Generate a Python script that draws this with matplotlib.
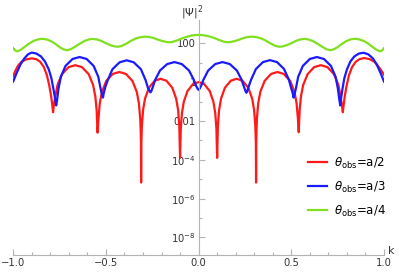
import numpy as np
import matplotlib
matplotlib.use("Agg")
import matplotlib.pyplot as plt
from matplotlib.ticker import FixedLocator, FixedFormatter, NullFormatter

# |Psi|^2, stored as log10 values
red_k = [-1.0, -0.99, -0.975, -0.955, -0.93, -0.9, -0.875, -0.855, -0.835, -0.818, -0.805, -0.795, -0.789, -0.785,
         -0.781, -0.773, -0.761, -0.737, -0.701, -0.665, -0.629, -0.593, -0.569, -0.557, -0.55, -0.545,
         -0.54, -0.533, -0.5215, -0.498, -0.463, -0.4275, -0.392, -0.357, -0.3335, -0.322, -0.315, -0.3124, -0.311, -0.31,
         -0.309, -0.306, -0.2995, -0.289, -0.268, -0.2365, -0.205, -0.1735, -0.142, -0.121, -0.1105, -0.104, -0.1018, -0.1,
         -0.096, -0.09, -0.08, -0.06, -0.03, 0.0, 0.03, 0.06, 0.08, 0.09, 0.096, 0.1,
         0.1018, 0.104, 0.1105, 0.121, 0.142, 0.1735, 0.205, 0.2365, 0.268, 0.289, 0.2995, 0.306, 0.309, 0.31,
         0.311, 0.3124, 0.3146, 0.3215, 0.333, 0.356, 0.3905, 0.425, 0.4595, 0.494, 0.517, 0.5285, 0.5354, 0.54,
         0.545, 0.552, 0.564, 0.588, 0.623, 0.659, 0.695, 0.73, 0.754, 0.766, 0.773, 0.778,
         0.782, 0.788, 0.798, 0.811, 0.828, 0.848, 0.868, 0.893, 0.923, 0.948, 0.968, 0.985, 1.0]
red_log = [0.30, 0.55, 0.83, 1.05, 1.17, 1.22, 1.18, 1.05, 0.78, 0.35, -0.2, -0.75, -1.2, -1.55,
           -1.2, -0.74, -0.15, 0.41, 0.77, 0.87, 0.77, 0.41, -0.15, -0.74, -1.45, -2.6,
           -1.88, -1.09, -0.5, 0.06, 0.42, 0.52, 0.42, 0.06, -0.5, -1.09, -1.88, -2.48, -3.1, -5.17,
           -3.2, -2.28, -1.44, -0.85, -0.29, 0.07, 0.17, 0.07, -0.29, -0.85, -1.44, -2.28, -3.2, -3.9,
           -2.39, -1.61, -1.02, -0.46, -0.1, 0.0, -0.1, -0.46, -1.02, -1.61, -2.39, -3.9,
           -3.2, -2.28, -1.44, -0.85, -0.29, 0.07, 0.17, 0.07, -0.29, -0.85, -1.44, -2.28, -3.2, -5.17,
           -3.1, -2.48, -1.88, -1.09, -0.5, 0.06, 0.42, 0.52, 0.42, 0.06, -0.5, -1.09, -1.85, -2.58,
           -1.45, -0.74, -0.15, 0.41, 0.77, 0.87, 0.77, 0.41, -0.15, -0.74, -1.2, -1.55,
           -1.2, -0.75, -0.2, 0.35, 0.78, 1.05, 1.18, 1.24, 1.18, 1.05, 0.83, 0.6, 0.38]

blue_k = [-1.0, -0.98, -0.96, -0.94, -0.92, -0.9, -0.875, -0.85, -0.828, -0.808, -0.794, -0.783, -0.774, -0.768,
          -0.763, -0.7554, -0.743, -0.718, -0.68, -0.642, -0.604, -0.566, -0.541, -0.529, -0.521, -0.516,
          -0.511, -0.503, -0.49, -0.465, -0.426, -0.388, -0.35, -0.311, -0.286, -0.273, -0.265, -0.26,
          -0.255, -0.247, -0.234, -0.208, -0.169, -0.13, -0.091, -0.052, -0.026, -0.013, -0.005, 0.0,
          0.005, 0.013, 0.026, 0.052, 0.09, 0.129, 0.168, 0.206, 0.232, 0.245, 0.253, 0.258,
          0.263, 0.271, 0.283, 0.309, 0.347, 0.385, 0.423, 0.461, 0.487, 0.499, 0.507, 0.512,
          0.517, 0.525, 0.537, 0.562, 0.6, 0.638, 0.676, 0.714, 0.739, 0.751, 0.759, 0.764,
          0.768, 0.776, 0.786, 0.8, 0.818, 0.84, 0.865, 0.89, 0.915, 0.94, 0.96, 0.98, 1.0]
blue_log = [0.03, 0.5, 0.92, 1.22, 1.43, 1.52, 1.47, 1.32, 1.05, 0.65, 0.2, -0.35, -0.85, -1.2,
            -0.9, -0.32, 0.27, 0.83, 1.19, 1.29, 1.19, 0.83, 0.27, -0.32, -0.65, -0.8,
            -0.55, -0.25, 0.1, 0.66, 1.02, 1.12, 1.02, 0.66, 0.1, -0.3, -0.45, -0.53,
            -0.47, -0.25, 0.12, 0.6, 0.93, 1.03, 0.93, 0.6, 0.12, -0.2, -0.35, -0.4,
            -0.35, -0.2, 0.12, 0.6, 0.93, 1.03, 0.93, 0.6, 0.12, -0.25, -0.47, -0.55,
            -0.45, -0.2, 0.12, 0.67, 1.03, 1.13, 1.03, 0.67, 0.12, -0.3, -0.55, -0.8,
            -0.65, -0.32, 0.27, 0.83, 1.19, 1.29, 1.19, 0.83, 0.27, -0.32, -0.9, -1.2,
            -0.85, -0.35, 0.2, 0.65, 1.05, 1.32, 1.47, 1.51, 1.43, 1.22, 0.92, 0.5, 0.03]

green_k = [-1.0, -0.99, -0.978, -0.96, -0.94, -0.915, -0.89, -0.865, -0.845, -0.82,
           -0.795, -0.77, -0.75, -0.73, -0.71, -0.69, -0.665, -0.64, -0.615, -0.59,
           -0.575, -0.55, -0.525, -0.5, -0.475, -0.455, -0.435, -0.415, -0.39, -0.365,
           -0.34, -0.315, -0.29, -0.265, -0.24, -0.215, -0.19, -0.17, -0.155, -0.14,
           -0.115, -0.09, -0.065, -0.04, -0.02, 0.0, 0.02, 0.04, 0.065, 0.09,
           0.115, 0.14, 0.155, 0.17, 0.19, 0.215, 0.24, 0.265, 0.29, 0.315,
           0.34, 0.365, 0.39, 0.415, 0.435, 0.455, 0.475, 0.5, 0.525, 0.55,
           0.575, 0.59, 0.615, 0.64, 0.665, 0.69, 0.71, 0.73, 0.75, 0.77,
           0.795, 0.82, 0.845, 0.865, 0.89, 0.915, 0.94, 0.96, 0.978, 0.99, 1.0]
green_log = [1.75, 1.63, 1.58, 1.66, 1.8, 1.98, 2.12, 2.2, 2.23, 2.2,
             2.1, 1.95, 1.8, 1.69, 1.64, 1.69, 1.83, 1.98, 2.12, 2.2,
             2.22, 2.2, 2.12, 2.0, 1.9, 1.84, 1.82, 1.86, 1.98, 2.12,
             2.24, 2.31, 2.34, 2.32, 2.26, 2.17, 2.1, 2.06, 2.05, 2.07,
             2.15, 2.25, 2.33, 2.39, 2.42, 2.43, 2.42, 2.39, 2.33, 2.25,
             2.15, 2.07, 2.05, 2.06, 2.1, 2.17, 2.26, 2.32, 2.34, 2.31,
             2.24, 2.12, 1.98, 1.86, 1.82, 1.84, 1.9, 2.0, 2.12, 2.2,
             2.22, 2.2, 2.12, 1.98, 1.83, 1.69, 1.64, 1.69, 1.8, 1.95,
             2.1, 2.2, 2.23, 2.2, 2.12, 1.98, 1.8, 1.66, 1.58, 1.63, 1.75]

labels = [r"$\theta_{\rm obs}$=a/2", r"$\theta_{\rm obs}$=a/3", r"$\theta_{\rm obs}$=a/4"]
colors = ["#ff1a1a", "#1a1aff", "#80e020"]

yticks = [1e2, 1, 1e-2, 1e-4, 1e-6, 1e-8]
ytick_labels = ["100", "1", "0.01", r"$10^{-4}$", r"$10^{-6}$", r"$10^{-8}$"]
yminor = [1e1, 1e-1, 1e-3, 1e-5, 1e-7]
xticks = [-1.0, -0.5, 0.0, 0.5, 1.0]

axis_col = "#b3b3b3"
text_col = "#333333"

fig = plt.figure(figsize=(4, 2.73), dpi=100)
ax = fig.add_axes([0.033, 0.066, 0.927, 0.861])

curves = [(red_k, red_log), (blue_k, blue_log), (green_k, green_log)]
for (k, lg), c, lab in zip(curves, colors, labels):
    ax.plot(k, 10 ** np.array(lg), color=c, lw=1.6, label=lab, solid_joinstyle="round")

ax.set_yscale("log")
ax.set_xlim(-1, 1)
ax.set_ylim(10 ** -8.9, 10 ** 3.2)

# mathematica style axes: y axis through k=0
ax.spines["top"].set_visible(False)
ax.spines["right"].set_visible(False)
ax.spines["left"].set_position(("data", 0))
for s in ("left", "bottom"):
    ax.spines[s].set_color(axis_col)
    ax.spines[s].set_linewidth(0.8)

ax.yaxis.set_major_locator(FixedLocator(yticks))
ax.yaxis.set_major_formatter(FixedFormatter(ytick_labels))
ax.yaxis.set_minor_locator(FixedLocator(yminor))
ax.yaxis.set_minor_formatter(NullFormatter())
ax.set_xticks(xticks)
ax.set_xticklabels(["%.1f" % v if v >= 0 else "\u2212%.1f" % -v for v in xticks])
ax.set_xticks(np.arange(-0.9, 0.95, 0.1), minor=True)

ax.tick_params(which="both", direction="in", color=axis_col, labelcolor=text_col,
               labelsize=7.2, width=0.8)
ax.tick_params(which="major", length=4, pad=2)
ax.tick_params(which="minor", length=2)

fig.text(192 / 400, 1 - 13 / 273, r"$|\Psi|^2$", ha="center", va="center",
         fontsize=8, color=text_col)
fig.text(391 / 400, 1 - 251 / 273, "k", ha="center", va="center",
         fontsize=8, color=text_col)

fig.legend(loc="center left", bbox_to_anchor=(308 / 400, 1 - 187 / 273),
           frameon=False, fontsize=8.5, handlelength=1.6, handletextpad=0.6,
           labelspacing=0.75, borderpad=0, borderaxespad=0)

fig.savefig("out.png", dpi=100)
